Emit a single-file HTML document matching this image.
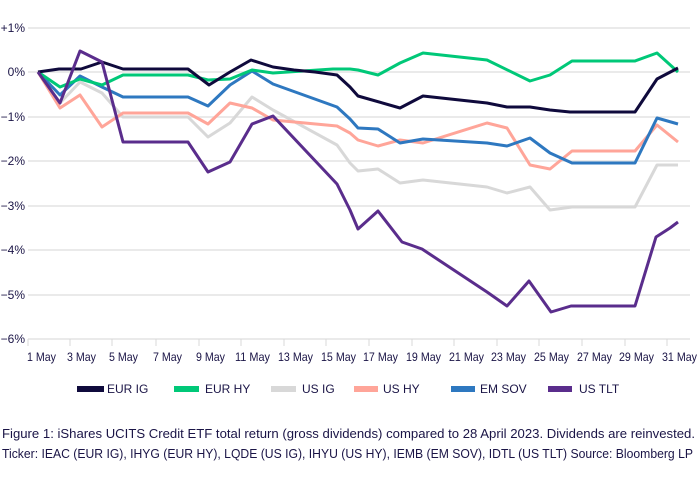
<!DOCTYPE html>
<html><head><meta charset="utf-8"><style>
html,body{margin:0;padding:0;background:#fff;}
svg{display:block;}
text{font-family:"Liberation Sans",sans-serif;fill:#1a1446;}
</style></head><body>
<svg width="700" height="487" viewBox="0 0 700 487" xmlns="http://www.w3.org/2000/svg">
<g stroke="#e3e3e3" stroke-width="1.5">
<line x1="28" y1="28" x2="690" y2="28"/>
<line x1="28" y1="72" x2="690" y2="72"/>
<line x1="28" y1="117" x2="690" y2="117"/>
<line x1="28" y1="161" x2="690" y2="161"/>
<line x1="28" y1="206" x2="690" y2="206"/>
<line x1="28" y1="250" x2="690" y2="250"/>
<line x1="28" y1="295" x2="690" y2="295"/>
<line x1="28" y1="339" x2="690" y2="339"/>
</g>
<g stroke="#d8d8d8" stroke-width="1">
<line x1="28" y1="339" x2="28" y2="346"/><line x1="70" y1="339" x2="70" y2="346"/><line x1="112" y1="339" x2="112" y2="346"/><line x1="156" y1="339" x2="156" y2="346"/><line x1="199" y1="339" x2="199" y2="346"/><line x1="241" y1="339" x2="241" y2="346"/><line x1="284" y1="339" x2="284" y2="346"/><line x1="326" y1="339" x2="326" y2="346"/><line x1="369" y1="339" x2="369" y2="346"/><line x1="412" y1="339" x2="412" y2="346"/><line x1="454" y1="339" x2="454" y2="346"/><line x1="497" y1="339" x2="497" y2="346"/><line x1="539" y1="339" x2="539" y2="346"/><line x1="582" y1="339" x2="582" y2="346"/><line x1="625" y1="339" x2="625" y2="346"/><line x1="667" y1="339" x2="667" y2="346"/>
</g>
<g font-size="12" text-anchor="end">
<text x="25" y="32">+1%</text><text x="25" y="76">0%</text><text x="25" y="121">−1%</text><text x="25" y="165">−2%</text><text x="25" y="210">−3%</text><text x="25" y="254">−4%</text><text x="25" y="299">−5%</text><text x="25" y="343">−6%</text>
</g>
<g font-size="12" lengthAdjust="spacingAndGlyphs">
<text x="27" y="361" textLength="29" lengthAdjust="spacingAndGlyphs">1 May</text>
<text x="67" y="361" textLength="29" lengthAdjust="spacingAndGlyphs">3 May</text>
<text x="109" y="361" textLength="29" lengthAdjust="spacingAndGlyphs">5 May</text>
<text x="153" y="361" textLength="29" lengthAdjust="spacingAndGlyphs">7 May</text>
<text x="196" y="361" textLength="29" lengthAdjust="spacingAndGlyphs">9 May</text>
<text x="235" y="361" textLength="35" lengthAdjust="spacingAndGlyphs">11 May</text>
<text x="278" y="361" textLength="35" lengthAdjust="spacingAndGlyphs">13 May</text>
<text x="321" y="361" textLength="35" lengthAdjust="spacingAndGlyphs">15 May</text>
<text x="363" y="361" textLength="35" lengthAdjust="spacingAndGlyphs">17 May</text>
<text x="406" y="361" textLength="35" lengthAdjust="spacingAndGlyphs">19 May</text>
<text x="449" y="361" textLength="35" lengthAdjust="spacingAndGlyphs">21 May</text>
<text x="491" y="361" textLength="35" lengthAdjust="spacingAndGlyphs">23 May</text>
<text x="534" y="361" textLength="35" lengthAdjust="spacingAndGlyphs">25 May</text>
<text x="577" y="361" textLength="35" lengthAdjust="spacingAndGlyphs">27 May</text>
<text x="619" y="361" textLength="35" lengthAdjust="spacingAndGlyphs">29 May</text>
<text x="662" y="361" textLength="35" lengthAdjust="spacingAndGlyphs">31 May</text>
</g>
<g fill="none" stroke-width="3" stroke-linejoin="round">
<polyline stroke="#d8d8d8" points="38,72 60,103 80,82 102,93 123,117 188,117 208,137 230,123 252,97 273,110 337,145 350,163 358,171 378,169 400,183 423,180 487,187 507,193 530,187 550,210 572,207 635,207 657,165 678,165"/>
<polyline stroke="#ffa599" points="38,72 60,108 80,95 102,127 123,113 188,113 208,124 230,103 252,108 273,120 337,126 350,133 358,140 378,146 400,140 423,143 487,123 507,128 530,165 550,169 572,151 635,151 657,125 678,142"/>
<polyline stroke="#2e78c0" points="38,72 60,95 80,76 102,87 123,97 188,97 208,106 230,85 252,71 273,84 337,107 350,119 358,128 378,129 400,143 423,139 487,143 507,146 530,138 550,153 572,163 635,163 657,118 678,124"/>
<polyline stroke="#00c878" points="38,72 60,87 80,79 102,85 123,75 188,75 208,80 230,79 252,70 273,73 333,69 350,69 358,70 378,75 400,63 423,53 487,60 530,81 550,75 572,61 635,61 657,53 678,72"/>
<polyline stroke="#0f0a3c" points="38,72 59,69 81,69 102,62 123,69 188,69 209,85 230,72 251,60 273,67 294,70 315,72 337,75 350,87 358,96 400,108 423,96 487,103 507,107 530,107 550,110 570,112 635,112 657,79 678,68"/>
<polyline stroke="#5a2d8c" points="38,72 60,103 80,51 102,62 123,142 188,142 208,172 230,162 252,124 273,116 337,184 350,210 358,229 378,211 402,242 422,249 487,292 507,306 529,281 551,312 571,306 635,306 656,237 670,228 678,222"/>
</g>
<g>
<rect x="77" y="386" width="27" height="6" fill="#0f0a3c"/><rect x="174" y="386" width="25" height="6" fill="#00c878"/><rect x="271" y="386" width="25" height="6" fill="#d8d8d8"/><rect x="354" y="386" width="24" height="6" fill="#ffa599"/><rect x="451" y="386" width="24" height="6" fill="#2e78c0"/><rect x="548" y="386" width="24" height="6" fill="#5a2d8c"/>
</g>
<g font-size="12">
<text x="107" y="393">EUR IG</text><text x="205" y="393">EUR HY</text><text x="302" y="393">US IG</text><text x="383" y="393">US HY</text><text x="480" y="393">EM SOV</text><text x="579" y="393">US TLT</text>
</g>
<g font-size="13">
<text x="2" y="438" textLength="693" lengthAdjust="spacingAndGlyphs">Figure 1: iShares UCITS Credit ETF total return (gross dividends) compared to 28 April 2023. Dividends are reinvested.</text>
<text x="2" y="458" textLength="691" lengthAdjust="spacingAndGlyphs">Ticker: IEAC (EUR IG), IHYG (EUR HY), LQDE (US IG), IHYU (US HY), IEMB (EM SOV), IDTL (US TLT) Source: Bloomberg LP</text>
</g>
</svg>
</body></html>
